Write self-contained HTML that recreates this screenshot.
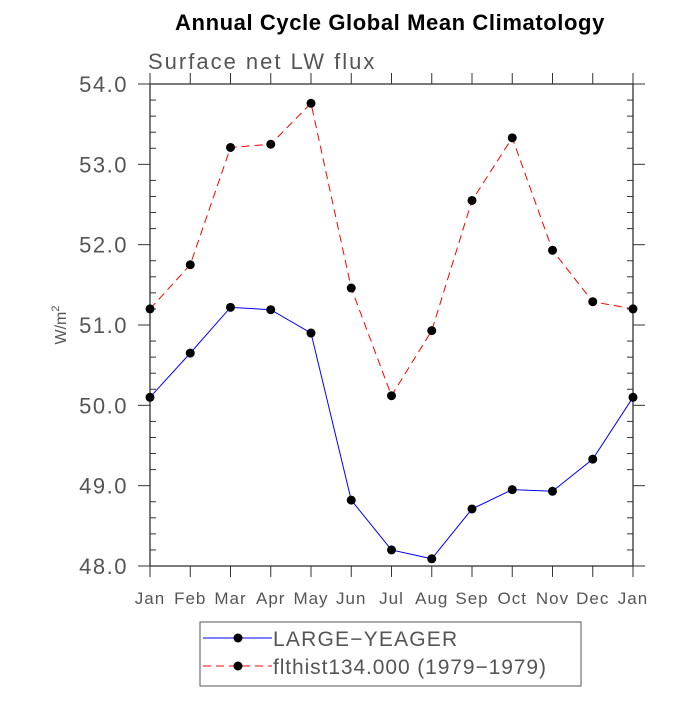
<!DOCTYPE html>
<html><head><meta charset="utf-8"><style>
body{margin:0;background:#fff;}
svg text{font-family:"Liberation Sans","DejaVu Sans",sans-serif;}
</style></head><body>
<svg id="c" width="700" height="700" viewBox="0 0 700 700" xmlns="http://www.w3.org/2000/svg">
<text x="390" y="30" text-anchor="middle" font-size="22" font-weight="bold" fill="#000" letter-spacing="0.6">Annual Cycle Global Mean Climatology</text>
<text x="148" y="69" font-size="22" fill="#555" letter-spacing="2">Surface net LW flux</text>
<text transform="translate(66,325) rotate(-90)" text-anchor="middle" font-size="16" fill="#555">W/m<tspan dy="-7" font-size="11">2</tspan></text>
<g id="axes"></g>
<g id="series"></g>
<rect x="200" y="622" width="381" height="64" fill="#fff" stroke="#555" stroke-width="1"/>
<g>
<line x1="203" y1="638" x2="272" y2="638" stroke="#00f" stroke-width="1"/>
<circle cx="238" cy="638" r="4.5" fill="#000"/>
<text x="273" y="646" font-size="21" fill="#555" letter-spacing="1.2">LARGE−YEAGER</text></g>
<g>
<line x1="203" y1="666" x2="272" y2="666" stroke="#f00" stroke-width="1" stroke-dasharray="8,5"/>
<circle cx="238" cy="666" r="4.5" fill="#000"/>
<text x="273" y="674" font-size="21" fill="#555" letter-spacing="0.9">flthist134.000 (1979−1979)</text></g>
</svg>
<script>
const months=["Jan","Feb","Mar","Apr","May","Jun","Jul","Aug","Sep","Oct","Nov","Dec","Jan"];
const yTicks=[48,49,50,51,52,53,54];
const yTickLabels=["48.0","49.0","50.0","51.0","52.0","53.0","54.0"];
const largeYeager=[50.10,50.65,51.22,51.19,50.90,48.82,48.20,48.09,48.71,48.95,48.93,49.33,50.10];
const flthist=[51.20,51.75,53.21,53.25,53.76,51.46,50.12,50.93,52.55,53.33,51.93,51.29,51.20];
const NS="http://www.w3.org/2000/svg";
const L=150,R=633,T=84,B=566,ymin=48,ymax=54;
function xs(i){return L+(R-L)*i/(months.length-1);}
function ys(v){return B-(B-T)*(v-ymin)/(ymax-ymin);}
function mk(tag,attrs,parent){const e=document.createElementNS(NS,tag);for(const k in attrs)e.setAttribute(k,attrs[k]);parent.appendChild(e);return e;}
const ax=document.getElementById('axes');
const frame=mk('rect',{x:L,y:T,width:R-L,height:B-T,fill:'none',stroke:'#333','stroke-width':1.3},ax);


months.forEach((m,i)=>{
  const x=xs(i);
  mk('line',{x1:x,y1:B,x2:x,y2:B+11,stroke:'#333','stroke-width':1},ax);
  mk('line',{x1:x,y1:T,x2:x,y2:T-11,stroke:'#333','stroke-width':1},ax);
  const t=mk('text',{x:x,y:B+38,'text-anchor':'middle','font-size':17,fill:'#555','letter-spacing':1},ax);
  t.textContent=m;
  
  
});
yTicks.forEach((v,i)=>{
  const y=ys(v);
  mk('line',{x1:L-12,y1:y,x2:L,y2:y,stroke:'#333','stroke-width':1},ax);
  mk('line',{x1:R,y1:y,x2:R+12,y2:y,stroke:'#333','stroke-width':1},ax);
  const t=mk('text',{x:L-22,y:y+8,'text-anchor':'end','font-size':22,fill:'#555','letter-spacing':1.5},ax);
  t.textContent=yTickLabels[i];
  
  
  if(i<yTicks.length-1){for(let k=1;k<5;k++){const yy=ys(v+k*0.2);
    mk('line',{x1:L,y1:yy,x2:L+6,y2:yy,stroke:'#333','stroke-width':1},ax);
    mk('line',{x1:R-6,y1:yy,x2:R,y2:yy,stroke:'#333','stroke-width':1},ax);}}
});
const sg=document.getElementById('series');
function draw(data,color,dash,name){
  const g=mk('g',{},sg);
  
  
  const p=mk('polyline',{points:data.map((v,i)=>xs(i)+','+ys(v)).join(' '),fill:'none',stroke:color,'stroke-width':1,'stroke-dasharray':dash},g);
  
  
  data.forEach((v,i)=>{const c=mk('circle',{cx:xs(i),cy:ys(v),r:4.5,fill:'#000'},g);
    
    });
}
draw(flthist,'#f00','8,5','flthist-series');
draw(largeYeager,'#00f','none','large-yeager-series');
</script>
</body></html>
